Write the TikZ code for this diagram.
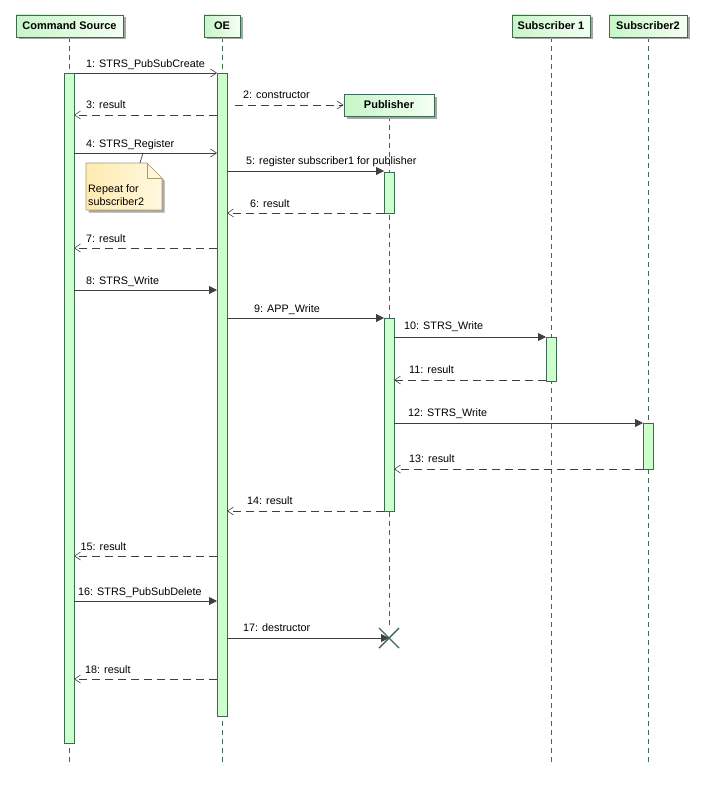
\documentclass[tikz,border=0pt]{standalone}
\usepackage{fontspec}
\setmainfont{Liberation Sans}
\usetikzlibrary{arrows.meta,shadows,calc}
\definecolor{bd}{HTML}{3C6B52}
\definecolor{actfill}{HTML}{CCFFCC}
\definecolor{headl}{HTML}{C8F5C8}
\definecolor{headr}{HTML}{F4FFF4}
\definecolor{ln}{HTML}{3F3F3F}
\definecolor{notel}{HTML}{FFEBB0}
\definecolor{noter}{HTML}{FFF8E0}
\definecolor{notebd}{HTML}{A89A6A}
\tikzset{
  head/.style={draw=bd, line width=0.9pt, left color=headl, right color=headr,
    minimum height=22pt, inner sep=0pt, font=\fontsize{11}{13}\selectfont\bfseries,
    drop shadow={shadow xshift=2.5pt, shadow yshift=-2.5pt, fill=black!35, opacity=1}},
  life/.style={draw=bd, line width=0.8pt, dash pattern=on 5pt off 4pt},
  actbar/.style={draw=bd, line width=1pt, fill=actfill},
  sync/.style={draw=ln, line width=0.8pt, -{Triangle[length=8pt,width=8pt]}},
  osync/.style={draw=ln, line width=0.8pt, -{Straight Barb[length=6pt,width=8pt,line width=0.6pt]}},
  reply/.style={draw=ln, line width=0.8pt, dash pattern=on 8pt off 5pt, -{Straight Barb[length=6pt,width=8pt,line width=0.6pt]}},
  lbl/.style={anchor=base west, inner sep=0pt, font=\fontsize{10.8}{13}\selectfont}
}
\begin{document}
\begin{tikzpicture}[x=1pt,y=-1pt]
\useasboundingbox (0,0) rectangle (701,792);
% lifelines
\draw[life] (69.5,37) -- (69.5,763);
\draw[life] (222,37) -- (222,763);
\draw[life] (389,116) -- (389,628);
\draw[life] (551,37) -- (551,763);
\draw[life] (648,37) -- (648,763);
% headers
\node[head, minimum width=107pt] (cs) at (69.5,26) {Command Source};
\node[head, minimum width=36pt] (oe) at (222,26) {OE};
\node[head, minimum width=90pt] (pub) at (389,105) {Publisher};
\node[head, minimum width=78pt] (s1) at (551,26) {Subscriber 1};
\node[head, minimum width=78pt] (s2) at (648,26) {Subscriber2};
% activation bars
\draw[actbar] (64,73) rectangle (74,743);
\draw[actbar] (217,73) rectangle (227,716);
\draw[actbar] (384,172) rectangle (394,213);
\draw[actbar] (384,318) rectangle (394,511);
\draw[actbar] (546,337) rectangle (556,381);
\draw[actbar] (643,423) rectangle (653,469);
% coordinates
\coordinate (csR) at (74,0); \coordinate (oeL) at (217,0); \coordinate (oeR) at (227,0);
\coordinate (pbL) at (384,0); \coordinate (pbR) at (394,0); \coordinate (s1L) at (546,0); \coordinate (s2L) at (643,0);
% messages
\draw[osync] (csR |- 0,73) -- (oeL |- 0,73);
\node[lbl] at (86,67) {1: STRS\_PubSubCreate};
\draw[reply] (235,105) -- (pub.west);
\node[lbl] at (243,98) {2: constructor};
\draw[reply] (oeL |- 0,115) -- (csR |- 0,115);
\node[lbl] at (86,108) {3: result};
\draw[osync] (csR |- 0,153) -- (oeL |- 0,153);
\node[lbl] at (86,147) {4: STRS\_Register};
\draw[sync] (oeR |- 0,171) -- (pbL |- 0,171);
\node[lbl] at (246,164) {5: register subscriber1 for publisher};
\draw[reply] (pbL |- 0,213) -- (oeR |- 0,213);
\node[lbl] at (250,207) {6: result};
\draw[reply] (oeL |- 0,248) -- (csR |- 0,248);
\node[lbl] at (86,242) {7: result};
\draw[sync] (csR |- 0,290) -- (oeL |- 0,290);
\node[lbl] at (86,284) {8: STRS\_Write};
\draw[sync] (oeR |- 0,318) -- (pbL |- 0,318);
\node[lbl] at (254,312) {9: APP\_Write};
\draw[sync] (pbR |- 0,337) -- (s1L |- 0,337);
\node[lbl] at (404,329) {10: STRS\_Write};
\draw[reply] (s1L |- 0,380) -- (pbR |- 0,380);
\node[lbl] at (409,373) {11: result};
\draw[sync] (pbR |- 0,423) -- (s2L |- 0,423);
\node[lbl] at (408,416) {12: STRS\_Write};
\draw[reply] (s2L |- 0,469) -- (pbR |- 0,469);
\node[lbl] at (409,462) {13: result};
\draw[reply] (pbL |- 0,511) -- (oeR |- 0,511);
\node[lbl] at (247,504) {14: result};
\draw[reply] (oeL |- 0,556) -- (csR |- 0,556);
\node[lbl] at (80.5,550) {15: result};
\draw[sync] (csR |- 0,601) -- (oeL |- 0,601);
\node[lbl] at (78,595) {16: STRS\_PubSubDelete};
\coordinate (xc) at (389,638);
\draw[sync] (oeR |- 0,638) -- (xc);
\node[lbl] at (243,631) {17: destructor};
\draw[reply] (oeL |- 0,679) -- (csR |- 0,679);
\node[lbl] at (85,673) {18: result};
% destruction X
\draw[bd, line width=1.4pt] ($(xc)+(-10,-10)$) -- ($(xc)+(10,10)$) ($(xc)+(-10,10)$) -- ($(xc)+(10,-10)$);
% note
\fill[black!35] (88.5,165.5) -- (149.5,165.5) -- (164.5,180.5) -- (164.5,212.5) -- (88.5,212.5) -- cycle;
\draw[notebd, line width=0.7pt, left color=notel, right color=noter] (86,163) -- (147,163) -- (162,178) -- (162,210) -- (86,210) -- cycle;
\draw[notebd, line width=0.7pt] (147,163) -- (147,178) -- (162,178);
\node[lbl] (note) at (88,192) {Repeat for};
\node[lbl] (note2) at (88,205) {subscriber2};
\draw[ln, line width=0.7pt] (143,153) -- (140,163);
\end{tikzpicture}
\end{document}
